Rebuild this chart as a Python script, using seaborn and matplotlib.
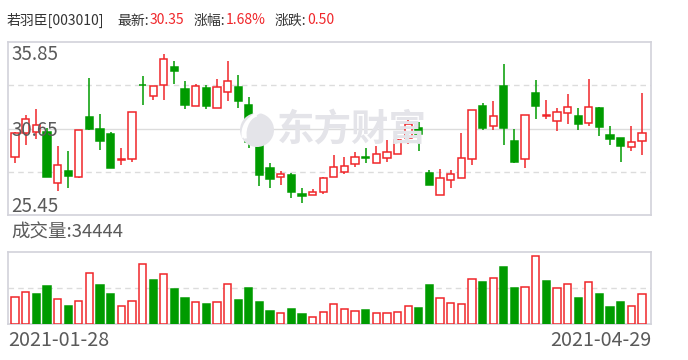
import numpy as np
import pandas as pd
import matplotlib
matplotlib.use("Agg")
import matplotlib.pyplot as plt
from matplotlib.patches import Ellipse, Arc
import seaborn as sns

# ---------------- data ----------------
stock_name = "若羽臣"
stock_code = "003010"
latest = "30.35"
pct_change = "1.68%"
abs_change = "0.50"
last_volume = "34444"
start_date = "2021-01-28"
end_date = "2021-04-29"
price_ticks = [25.45, 30.65, 35.85]

opens = [28.96, 30.40, 30.44, 30.44, 27.35, 28.10, 27.71, 31.32, 30.60, 30.30,
         28.74, 28.80, 33.29, 32.58, 33.25, 34.33, 33.00, 31.98, 33.07, 31.90,
         32.82, 33.13, 32.06, 29.72, 28.28, 27.71, 27.85, 26.71, 26.63, 26.85,
         27.71, 28.02, 28.50, 28.92, 28.56, 28.86, 29.10, 30.06, 30.66, 27.95,
         26.67, 27.55, 27.65, 28.80, 32.00, 30.78, 33.21, 29.90, 28.80, 32.78,
         31.42, 31.08, 31.56, 31.38, 30.96, 31.86, 30.24, 30.06, 29.52, 29.88]
closes = [30.36, 31.20, 30.84, 27.75, 28.44, 27.81, 30.54, 30.64, 29.92, 28.30,
          28.80, 31.62, 33.25, 33.19, 34.81, 34.13, 32.08, 33.19, 32.02, 33.13,
          33.49, 32.32, 29.86, 27.87, 27.63, 27.89, 26.85, 26.57, 26.85, 27.67,
          28.32, 28.38, 28.92, 28.90, 29.10, 29.22, 29.96, 30.90, 30.34, 27.27,
          27.67, 27.89, 28.86, 31.74, 30.70, 31.38, 30.70, 28.66, 31.44, 32.02,
          31.46, 31.62, 31.92, 30.94, 31.92, 30.76, 30.04, 29.62, 29.85, 30.35]
highs = [30.45, 31.48, 31.82, 30.66, 29.60, 29.30, 30.56, 33.69, 31.52, 30.42,
         29.48, 31.62, 33.81, 33.19, 35.13, 34.71, 33.49, 33.33, 33.27, 33.61,
         34.71, 33.87, 32.52, 29.84, 28.56, 28.10, 28.00, 27.05, 26.99, 27.75,
         29.04, 28.94, 29.22, 29.46, 29.60, 29.96, 30.04, 31.16, 31.04, 28.16,
         28.22, 28.16, 30.36, 31.74, 32.16, 32.30, 34.53, 30.60, 31.44, 33.57,
         32.36, 31.86, 32.72, 31.86, 33.63, 31.92, 30.80, 30.06, 30.80, 32.78]
lows = [28.60, 29.66, 30.04, 27.75, 26.91, 27.09, 27.69, 30.56, 29.36, 28.30,
        28.48, 28.66, 32.08, 32.36, 32.36, 33.35, 31.82, 31.98, 31.82, 31.86,
        32.30, 31.90, 29.50, 27.21, 27.09, 27.27, 26.49, 26.19, 26.63, 26.69,
        27.71, 27.93, 28.36, 28.56, 28.56, 28.66, 29.10, 29.74, 29.32, 27.27,
        26.63, 27.09, 27.65, 28.46, 30.56, 30.56, 29.66, 28.60, 28.30, 31.22,
        31.22, 30.52, 30.94, 30.56, 30.82, 30.22, 29.66, 28.66, 29.32, 29.08]
volumes = [30900, 37100, 34800, 43000, 28500, 20700, 26200, 59000, 44200, 34800,
           20300, 26200, 68800, 50000, 57100, 39500, 30100, 25400, 23100, 25400,
           45400, 27800, 40700, 25400, 14900, 12100, 17200, 11300, 7400, 13300,
           22700, 16800, 14900, 16000, 12100, 12100, 13700, 20300, 18400, 44200,
           29700, 24200, 23100, 52000, 47700, 53200, 65300, 41100, 42600, 78200,
           48900, 40700, 45400, 30100, 47700, 34800, 19600, 25400, 20300, 34444]

RED = "#f0262a"
GREEN = "#009b00"
GRID = "#dcdcdc"
FRAME = "#d2d2da"
TXT = "#333333"
AX_TXT = "#5a5a5a"
WM = "#e4e4e9"

df = pd.DataFrame({"open": opens, "close": closes, "high": highs,
                   "low": lows, "volume": volumes})
df["x"] = np.arange(len(df))
df["up"] = df["close"] >= df["open"]
prev = df["close"].shift(1)
df["vol_up"] = (df["close"] >= prev) | prev.isna()

# ---------------- figure ----------------
sns.set_theme(style="white")
plt.rcParams["font.family"] = ["Noto Sans CJK SC", "DejaVu Sans"]

W, H = 688, 360
fig = plt.figure(figsize=(W / 100, H / 100), dpi=100)


def fx(px):
    return px / W


def fy(py):
    return 1 - py / H


ax1 = fig.add_axes([fx(8), fy(215), fx(643), 173 / H])
ax2 = fig.add_axes([fx(8), fy(323.5), fx(643), 71.5 / H])

xlim = (-0.66, len(df) - 0.15)
bw = 0.68

# price panel
ax1.set_xlim(*xlim)
ax1.set_ylim(price_ticks[0], price_ticks[-1])
mid = price_ticks[1]
q1 = (price_ticks[0] + mid) / 2
q3 = (mid + price_ticks[-1]) / 2
ax1.axhline(mid, color=GRID, lw=1.0, zorder=0)
for q in (q1, q3):
    ax1.axhline(q, color=GRID, lw=1.0, ls=(0, (4, 3)), zorder=0)

cols = np.where(df["up"], RED, GREEN)
ax1.vlines(df["x"], df["low"], df["high"], colors=cols, lw=1.1, zorder=2)
body_bottom = np.minimum(df["open"], df["close"])
body_h = np.maximum((df["close"] - df["open"]).abs(), 0.02)
faces = np.where(df["up"], "white", GREEN)
ax1.bar(df["x"], body_h, bottom=body_bottom, width=bw, color=faces,
        edgecolor=cols, linewidth=1.1, zorder=3)

# volume panel
ax2.set_xlim(*xlim)
ax2.set_ylim(0, 83000)
ax2.axhline(41500, color=GRID, lw=1.0, ls=(0, (4, 3)), zorder=0)
vcols = np.where(df["vol_up"], RED, GREEN)
vfaces = np.where(df["vol_up"], "white", GREEN)
ax2.bar(df["x"], df["volume"], width=bw, color=vfaces, edgecolor=vcols,
        linewidth=1.1, zorder=3)

for ax in (ax1, ax2):
    ax.set_xticks([])
    ax.set_yticks([])
    for s in ax.spines.values():
        s.set_color(FRAME)
        s.set_linewidth(1.2)
        s.set_visible(True)

# watermark (logo + text)
fig.text(fx(352), fy(130), "东方财富", color=WM, fontsize=27,
         fontweight="bold", ha="center", va="center", zorder=1)
cx, cy, r = 257, 130, 17
fig.patches.append(Ellipse((fx(cx), fy(cy)), 2 * r / W, 2 * r / H,
                           transform=fig.transFigure, facecolor=WM,
                           edgecolor="none", zorder=1))
for dx, rr in ((6, 20), (12, 24)):
    fig.patches.append(Arc((fx(cx + dx), fy(cy + 4)), 2 * rr / W, 2 * rr / H,
                           theta1=100, theta2=200, transform=fig.transFigure,
                           color="white", lw=2.2, zorder=1))

# header: chained pieces
hy = fy(20.5)
hs = 10
renderer = fig.canvas.get_renderer()
pieces = [
    (7, f"{stock_name}[{stock_code}]", TXT),
    (117, "最新:", TXT),
    (None, latest, RED),
    (194, "涨幅:", TXT),
    (None, pct_change, RED),
    (275, "涨跌:", TXT),
    (None, abs_change, RED),
]
cur = 0
for xpos, s, c in pieces:
    x0 = xpos if xpos is not None else cur + 0.5
    t = fig.text(fx(x0), hy, s, color=c, fontsize=hs, va="center")
    bb = t.get_window_extent(renderer=renderer)
    cur = bb.x1

# price labels
ls_ = 13.5
fig.text(fx(11), fy(54), f"{price_ticks[2]:.2f}", color=AX_TXT, fontsize=ls_, va="center")
fig.text(fx(11), fy(130), f"{price_ticks[1]:.2f}", color=AX_TXT, fontsize=ls_, va="center")
fig.text(fx(11), fy(207), f"{price_ticks[0]:.2f}", color=AX_TXT, fontsize=ls_, va="center")

# volume label
fig.text(fx(11), fy(233), f"成交量:{last_volume}", color=AX_TXT, fontsize=13.3, va="center")

# dates
fig.text(fx(8), fy(340.5), start_date, color=AX_TXT, fontsize=14.2, va="center")
fig.text(fx(651), fy(340.5), end_date, color=AX_TXT, fontsize=14.2, va="center", ha="right")

fig.savefig("out.png", dpi=100)
